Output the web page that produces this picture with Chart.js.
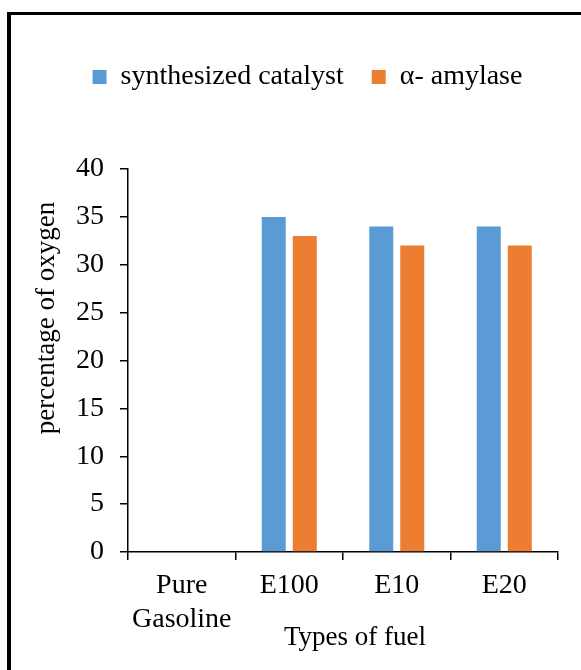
<!DOCTYPE html>
<html>
<head>
<meta charset="utf-8">
<title>Percentage of oxygen by fuel type</title>
<script src="https://cdn.jsdelivr.net/npm/chart.js@4/dist/chart.umd.min.js"></script>
<style>
  html, body { margin: 0; padding: 0; background: #fff; overflow: hidden; }
  #wrap { position: relative; width: 581px; height: 670px; }
  #frame {
    position: absolute; left: 7px; top: 12px; width: 700px; height: 800px;
    border: 3px solid #000; border-left-width: 4px; pointer-events: none;
  }
</style>
</head>
<body>
<div id="wrap">
  <canvas id="chart" width="581" height="670"></canvas>
  <div id="frame"></div>
</div>
<script>
// Fuel categories (multi-line labels) and oxygen percentages per method
const categories = [['Pure', 'Gasoline'], 'E100', 'E10', 'E20'];
const synthesizedCatalyst = [0, 35, 34, 34];
const alphaAmylase = [0, 33, 32, 32];
const seriesNames = ['synthesized catalyst', 'α- amylase'];
const xTitle = 'Types of fuel';
const yTitle = 'percentage of oxygen';
const yTicks = { min: 0, max: 40, step: 5 };

const serif = "'Liberation Serif', 'Times New Roman', serif";
Chart.defaults.font.family = serif;
Chart.defaults.font.size = 28;
Chart.defaults.color = '#000';

// Reserve a fixed height for the legend block so the plot sits below it
const legendHeight = {
  id: 'legendHeight',
  beforeInit(chart) {
    const leg = chart.legend;
    if (!leg) return;
    const fit = leg.fit;
    leg.fit = function () {
      fit.call(this);
      this.height = 134;
    };
  }
};

// Axis titles, placed relative to the plot area
const axisTitles = {
  id: 'axisTitles',
  afterDraw(chart) {
    const { ctx, chartArea } = chart;
    ctx.save();
    ctx.fillStyle = '#000';
    ctx.font = '27px ' + serif;
    ctx.textAlign = 'center';
    ctx.textBaseline = 'middle';
    // horizontal title under the category labels
    ctx.fillText(xTitle, (chartArea.left + chartArea.right) / 2 + 12, chartArea.bottom + 86);
    // vertical title left of the value ticks
    ctx.translate(47, chartArea.top + 149);
    ctx.rotate(-Math.PI / 2);
    ctx.fillText(yTitle, 0, 0);
    ctx.restore();
  }
};

new Chart(document.getElementById('chart'), {
  type: 'bar',
  data: {
    labels: categories,
    datasets: [
      { label: seriesNames[0], data: synthesizedCatalyst, backgroundColor: '#5B9BD5' },
      { label: seriesNames[1], data: alphaAmylase, backgroundColor: '#ED7D31' }
    ]
  },
  options: {
    responsive: false,
    animation: false,
    devicePixelRatio: 1,
    categoryPercentage: 0.577,
    barPercentage: 0.774,
    layout: { padding: { left: 34, right: 0, top: 35, bottom: 0 } },
    plugins: {
      tooltip: { enabled: false },
      legend: {
        position: 'top',
        labels: {
          boxWidth: 14,
          boxHeight: 14,
          padding: 28,
          font: { size: 28 }
        }
      }
    },
    scales: {
      x: {
        grid: { display: true, drawOnChartArea: false, color: '#000', lineWidth: 1.5, tickLength: 8, offset: true },
        border: { display: true, color: '#000', width: 1.5 },
        ticks: { padding: 9, maxRotation: 0, autoSkip: false, font: { size: 28 } },
        afterFit(scale) { scale.height = 118; }
      },
      y: {
        min: yTicks.min,
        max: yTicks.max,
        grid: { display: true, drawOnChartArea: false, color: '#000', lineWidth: 1.5, tickLength: 8 },
        border: { display: true, color: '#000', width: 1.5 },
        ticks: { stepSize: yTicks.step, padding: 16, font: { size: 28 } },
        afterFit(scale) { scale.width = 94; }
      },
      // empty spacer on the right edge of the plot
      yRight: {
        position: 'right',
        display: true,
        grid: { display: false },
        border: { display: false },
        ticks: { display: false },
        afterFit(scale) { scale.width = 23; }
      }
    }
  },
  plugins: [legendHeight, axisTitles]
});
</script>
</body>
</html>
